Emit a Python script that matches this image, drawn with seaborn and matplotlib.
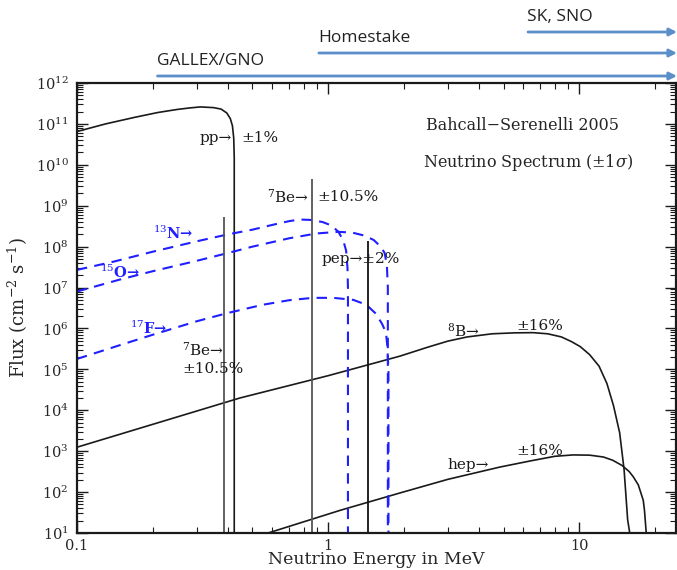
import numpy as np
import matplotlib
matplotlib.use("Agg")
import matplotlib.pyplot as plt
import seaborn as sns
from matplotlib.ticker import LogLocator, LogFormatterMathtext, NullFormatter, FixedLocator, FixedFormatter

# --- data (energy in MeV, flux in cm^-2 s^-1) ---
pp_E = [0.1, 0.13, 0.17, 0.21, 0.25, 0.28, 0.31, 0.35, 0.375, 0.395, 0.408, 0.416, 0.421, 0.423, 0.423]
pp_F = [6.5e10, 1e11, 1.45e11, 1.9e11, 2.25e11, 2.45e11, 2.6e11, 2.5e11, 2.3e11, 1.85e11,
        1.35e11, 9e10, 4.5e10, 1.5e10, 10]

b8_E = [0.1, 0.446, 1.0, 1.93, 2.5, 3.0, 3.58, 4.5, 5.5, 6.55, 7.5, 8.5, 9.3, 10.1, 11.0,
        12.0, 12.9, 13.7, 14.5, 15.1, 15.6, 15.9]
b8_F = [1.25e3, 2e4, 7e4, 2.1e5, 3.5e5, 4.9e5, 6.2e5, 7.4e5, 7.8e5, 7.9e5, 7.4e5, 6.2e5, 4.8e5,
        3.6e5, 2.3e5, 1.2e5, 4.5e4, 1.3e4, 2.8e3, 3.5e2, 21, 10]

hep_E = [0.577, 1.12, 1.93, 3.0, 4.84, 6.5, 8.0, 9.45, 11.0, 12.5, 13.6, 14.8, 15.8, 16.4, 17.2,
         18.0, 18.2, 18.5]
hep_F = [10, 36, 95, 205, 410, 590, 750, 810, 800, 720, 600, 450, 320, 240, 150, 63, 36, 10]

n13_E = [0.1, 0.14, 0.2, 0.3, 0.4, 0.5, 0.6, 0.7, 0.77, 0.85, 0.95, 1.03, 1.1, 1.15, 1.18, 1.195, 1.2, 1.2]
n13_F = [2.7e7, 4.3e7, 7.5e7, 1.35e8, 2e8, 2.6e8, 3.4e8, 4.2e8, 4.6e8, 4.5e8, 4e8, 3.3e8, 2.3e8,
         1.4e8, 8e7, 3e7, 1e7, 10]

o15_E = [0.1, 0.15, 0.2, 0.3, 0.4, 0.5, 0.7, 0.9, 1.1, 1.25, 1.4, 1.52, 1.62, 1.68, 1.715, 1.73, 1.73]
o15_F = [8e6, 1.6e7, 2.5e7, 4.5e7, 7e7, 1e8, 1.6e8, 2.1e8, 2.3e8, 2.2e8, 1.85e8, 1.45e8, 1e8,
         7e7, 3.5e7, 1e7, 10]

f17_E = [0.1, 0.15, 0.2, 0.3, 0.4, 0.55, 0.7, 0.87, 1.05, 1.26, 1.42, 1.55, 1.64, 1.7, 1.72, 1.74, 1.74]
f17_F = [1.8e5, 4e5, 7e5, 1.5e6, 2.4e6, 3.8e6, 4.9e6, 5.6e6, 5.6e6, 5e6, 3.8e6, 2.3e6, 1.3e6,
         8e5, 4e5, 1e5, 10]

# mono-energetic lines: energy, top of line, colour
line_E = [0.384, 0.862, 1.442]
line_top = [5.3e8, 4.6e9, 1.4e8]
line_col = ["#555555", "#555555", "#111111"]

# detector thresholds shown as arrows above the plot
det_names = ["GALLEX/GNO", "Homestake", "SK, SNO"]
det_E = [0.204, 0.896, 6.1]

sns.set_style("ticks")
plt.rcParams['font.family'] = ['DejaVu Serif']
plt.rcParams['mathtext.fontset'] = 'dejavuserif'

fig = plt.figure(figsize=(6.77, 5.70), dpi=100)
ax = fig.add_axes([0.1137, 0.0649, 0.8848, 0.7895])
ax.set_xscale('log')
ax.set_yscale('log')

black = "#1a1a1a"
blue = "#1f1fff"
for E, F in [(pp_E, pp_F), (b8_E, b8_F), (hep_E, hep_F)]:
    sns.lineplot(x=E, y=F, ax=ax, color=black, lw=1.2, sort=False, estimator=None)
for E, F in [(n13_E, n13_F), (o15_E, o15_F), (f17_E, f17_F)]:
    sns.lineplot(x=E, y=F, ax=ax, color=blue, lw=1.5, sort=False, estimator=None,
                 linestyle=(0, (5, 3.5)))
ax.vlines(line_E, 10, line_top, colors=line_col, lw=1.3)

ax.set_xlim(0.1, 24.3)
ax.set_ylim(10, 1e12)

ax.yaxis.set_major_locator(LogLocator(base=10, numticks=20))
ax.yaxis.set_minor_locator(LogLocator(base=10, subs=np.arange(2, 10), numticks=20))
ax.yaxis.set_major_formatter(LogFormatterMathtext())
ax.yaxis.set_minor_formatter(NullFormatter())
ax.xaxis.set_major_locator(FixedLocator([0.1, 1, 10]))
ax.xaxis.set_major_formatter(FixedFormatter(["0.1", "1", "10"]))
ax.xaxis.set_minor_locator(LogLocator(base=10, subs=np.arange(2, 10), numticks=20))
ax.xaxis.set_minor_formatter(NullFormatter())
ax.xaxis.get_offset_text().set_visible(False)
ax.yaxis.get_offset_text().set_visible(False)
ax.tick_params(which='both', direction='in', top=True, right=True, labelsize=10.5, color=black)
ax.tick_params(which='major', length=8, width=1)
ax.tick_params(which='minor', length=4, width=0.8)
ax.tick_params(axis='x', pad=4)
ax.tick_params(axis='y', pad=6)
for s in ax.spines.values():
    s.set_linewidth(1.6)
    s.set_color(black)

ax.set_xlabel("Neutrino Energy in MeV", fontsize=12.5, labelpad=-1)
ax.set_ylabel("Flux (cm$^{-2}$ s$^{-1}$)", fontsize=13, labelpad=4)

tk = dict(fontsize=11, color=black, va='center')
ax.text(0.415, 10**10.66, "pp\u2192", ha='right', **tk)
ax.text(0.45, 10**10.66, "\u00b11%", ha='left', **tk)
ax.text(0.84, 10**9.21, "$^7$Be\u2192", ha='right', **tk)
ax.text(0.91, 10**9.21, "\u00b110.5%", ha='left', **tk)
ax.text(0.94, 10**7.70, "pep\u2192\u00b12%", ha='left', **tk)
ax.text(0.262, 10**5.47, "$^7$Be\u2192", ha='left', **tk)
ax.text(0.262, 10**5.0, "\u00b110.5%", ha='left', **tk)
ax.text(2.98, 10**5.94, "$^8$B\u2192", ha='left', **tk)
ax.text(5.6, 10**6.06, "\u00b116%", ha='left', **tk)
ax.text(3.0, 10**2.66, "hep\u2192", ha='left', **tk)
ax.text(5.6, 10**3.0, "\u00b116%", ha='left', **tk)

bk = dict(fontsize=10.5, color=blue, va='center', ha='left', fontweight='bold')
ax.text(0.2, 10**8.33, "$^{13}$N\u2192", **bk)
ax.text(0.124, 10**7.36, "$^{15}$O\u2192", **bk)
ax.text(0.163, 10**6.01, "$^{17}$F\u2192", **bk)

ax.text(5.93, 10**10.97, "Bahcall\u2212Serenelli 2005", ha='center', va='center', fontsize=11.5)
ax.text(6.26, 10**10.05, "Neutrino Spectrum (\u00b11$\\sigma$)", ha='center', va='center', fontsize=11.5)

# detector arrows above the axes
arrow_y = [76, 53, 32]
for name, E0, yp in zip(det_names, det_E, arrow_y):
    xf = ax.transData.transform((E0, 10))[0] / fig.bbox.width
    yf = 1 - yp / 570
    fig.add_artist(matplotlib.patches.FancyArrowPatch((xf, yf), (1.0, yf), transform=fig.transFigure,
                                                      arrowstyle='-|>', mutation_scale=11,
                                                      color="#5b8fc9", lw=2.0, shrinkB=0))
    fig.text(xf + 0.003, yf + 0.012, name, fontsize=12.5, family=['Open Sans', 'DejaVu Sans'],
             color="#222222", va='bottom', ha='left')

fig.savefig("out.png", dpi=100)
